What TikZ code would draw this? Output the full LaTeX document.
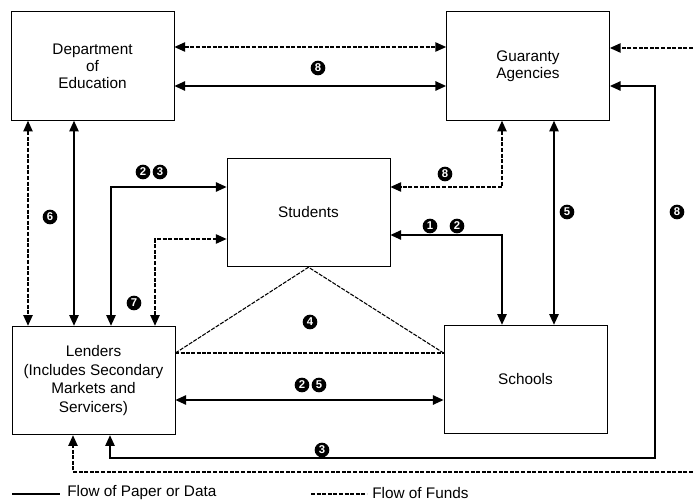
\documentclass[tikz,border=0pt]{standalone}
\usepackage{fontspec}
\setmainfont{Liberation Sans}
\usetikzlibrary{arrows.meta}
\tikzset{
  box/.style={draw, line width=0.6pt, minimum width=122.25pt, minimum height=81.5pt, align=center, inner sep=0pt, font=\fontsize{11.5}{12.8}\selectfont},
  paper/.style={line width=1.2pt, >={Triangle[length=8pt,width=7pt]}},
  funds/.style={line width=0.9pt, dash pattern=on 3pt off 1.2pt, >={Triangle[length=8pt,width=7pt]}},
  tri/.style={line width=0.8pt, dash pattern=on 3pt off 1pt},
  num/.style={circle, fill=black, inner sep=0pt, minimum size=11pt, text=white, font=\fontsize{8.5}{9}\bfseries\selectfont},
  legtext/.style={anchor=west, inner sep=0pt, font=\fontsize{11.5}{12}\selectfont}
}
\begin{document}
\begin{tikzpicture}[x=0.75pt,y=-0.75pt]
\useasboundingbox (0,0) rectangle (693,503);
% boxes
\node[box] (DoE) at (92.5,66) {Department\\of\\Education};
\node[box] (GA) at (528,66) {Guaranty\\Agencies};
\node[box] (Stu) at (308.5,212.5) {Students};
\node[box, font=\fontsize{11.5}{14}\selectfont] (Len) at (93.5,380.5) {Lenders\\(Includes Secondary\\Markets and\\Servicers)};
\node[box] (Sch) at (525.5,379.5) {Schools};
% free ends
\coordinate (r1) at (693,48);
\coordinate (r2) at (693,472);
% DoE <-> GA
\draw[funds,<->] (DoE.east |- 0,47) -- (GA.west |- 0,47);
\draw[paper,<->] (DoE.east |- 0,86) -- (GA.west |- 0,86);
\node[num] (n8a) at (318,68) {8};
% right dashed into GA
\draw[funds,->] (r1) -- (GA.east |- r1);
% GA <-> Lenders solid loop
\draw[paper,<->] (GA.east |- 0,86) -- (655,86) -- (655,458) -- (110,458) -- (Len.south -| 110,0);
\node[num] (n8c) at (677,212) {8};
\node[num] (n3b) at (322,450) {3};
% bottom dashed to Lenders
\draw[funds,->] (r2) -- (73,472) -- (Len.south -| 73,0);
% GA <-> Students dashed
\draw[funds,<->] (GA.south -| 502,0) -- (502,187) -- (Stu.east |- 0,187);
\node[num] (n8b) at (445,174) {8};
% GA <-> Schools
\draw[paper,<->] (GA.south -| 554,0) -- (Sch.north -| 554,0);
\node[num] (n5a) at (567,212) {5};
% Students <-> Schools
\draw[paper,<->] (Stu.east |- 0,235) -- (502,235) -- (Sch.north -| 502,0);
\node[num] (n1) at (430,226) {1};
\node[num] (n2a) at (457,226) {2};
% DoE <-> Lenders
\draw[funds,<->] (DoE.south -| 28,0) -- (Len.north -| 28,0);
\draw[paper,<->] (DoE.south -| 74,0) -- (Len.north -| 74,0);
\node[num] (n6) at (50,217) {6};
% Lenders <-> Students
\draw[paper,<->] (Len.north -| 111,0) -- (111,187) -- (Stu.west |- 0,187);
\node[num] (n2b) at (143,172) {2};
\node[num] (n3a) at (160,172) {3};
\draw[funds,<->] (Len.north -| 155,0) -- (155,239) -- (Stu.west |- 0,239);
\node[num] (n7) at (134,303) {7};
% triangle
\draw[tri] (Len.east |- 0,353) -- (Stu.south) -- (Sch.west |- 0,353);
\draw[tri] (Len.east |- 0,353) -- (Sch.west |- 0,353);
\node[num] (n4) at (310,322) {4};
% Lenders <-> Schools
\draw[paper,<->] (Len.east |- 0,400) -- (Sch.west |- 0,400);
\node[num] (n2c) at (302,385) {2};
\node[num] (n5b) at (319,385) {5};
% legend
\coordinate (l1) at (12,494);
\coordinate (l2) at (60,494);
\draw[line width=1pt] (l1) -- (l2);
\node[legtext] (lt1) at (67,493) {Flow of Paper or Data};
\coordinate (l3) at (311,494);
\coordinate (l4) at (367,494);
\draw[funds] (l3) -- (l4);
\node[legtext] (lt2) at (372,493) {Flow of Funds};
\end{tikzpicture}
\end{document}
